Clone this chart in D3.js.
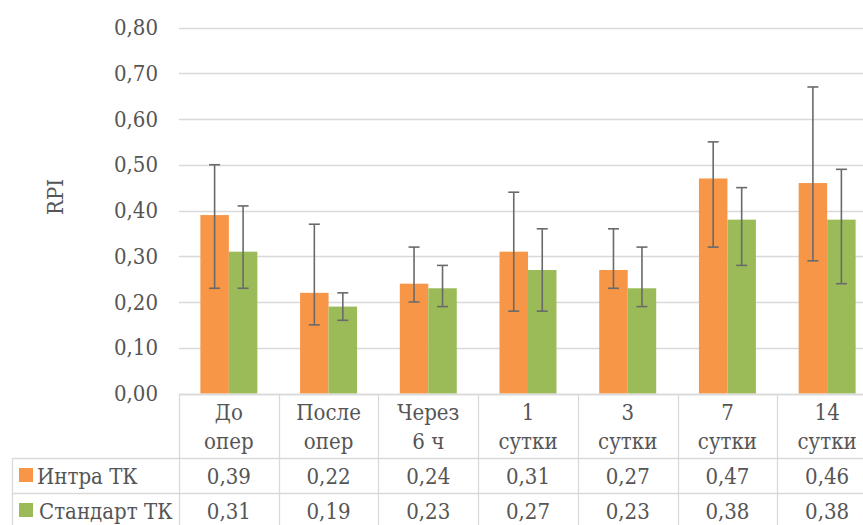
<!DOCTYPE html>
<html><head><meta charset="utf-8">
<script src="https://cdn.jsdelivr.net/npm/d3@7"></script>
<style>html,body{margin:0;padding:0;background:#fff;overflow:hidden}
svg text{font-family:"DejaVu Serif Condensed","DejaVu Serif",serif !important;font-stretch:condensed;}</style>
</head><body>
<script>
const categories = [["До","опер"],["После","опер"],["Через","6 ч"],["1","сутки"],["3","сутки"],["7","сутки"],["14","сутки"]];
const seriesNames = ["Интра ТК","Стандарт ТК"];
const intraValues = [0.39,0.22,0.24,0.31,0.27,0.47,0.46];
const standardValues = [0.31,0.19,0.23,0.27,0.23,0.38,0.38];
const intraLow = [0.23,0.15,0.20,0.18,0.23,0.32,0.29];
const intraHigh = [0.50,0.37,0.32,0.44,0.36,0.55,0.67];
const standardLow = [0.23,0.16,0.19,0.18,0.19,0.28,0.24];
const standardHigh = [0.41,0.22,0.28,0.36,0.32,0.45,0.49];
const yTicks = [0,0.1,0.2,0.3,0.4,0.5,0.6,0.7,0.8];
const colors = ["#F79646","#9BBB59"];

const W = 863, H = 525;
const svg = d3.select("body").append("svg").attr("width", W).attr("height", H);
const textColor = "#555555", gridColor = "#d9d9d9";
const fs = "22px";
const fmt = v => d3.format(".2f")(v).replace(".", ",");

const x0 = 179, plotRight = 877, yBase = 393.5, yTop = 27.5;
const x = d3.scaleBand().domain(d3.range(categories.length)).range([x0, plotRight]).paddingInner(0).paddingOuter(0);
const bw = x.bandwidth();
const xs = d3.scaleBand().domain([0,1]).range([bw*0.2143, bw*0.7857]).padding(0);
const y = d3.scaleLinear().domain([0,0.8]).range([yBase, yTop]);

svg.append("g").selectAll("line").data(yTicks).join("line")
  .attr("x1", x0).attr("x2", plotRight)
  .attr("y1", d => Math.round(y(d)) + 0.5).attr("y2", d => Math.round(y(d)) + 0.5)
  .attr("stroke", gridColor).attr("stroke-width", 1.3);

const yAxis = d3.axisLeft(y).tickValues(yTicks).tickFormat(fmt).tickSize(0).tickPadding(0);
const ga = svg.append("g").attr("transform", `translate(158,0)`).call(yAxis);
ga.select(".domain").remove();
ga.selectAll("text").attr("fill", textColor).style("font-size", fs);

svg.append("text").attr("transform", "translate(63,197) rotate(-90)")
  .attr("text-anchor", "middle").attr("fill", textColor).style("font-size", fs).text("RPI");

const series = [
  {vals: intraValues, lo: intraLow, hi: intraHigh},
  {vals: standardValues, lo: standardLow, hi: standardHigh}
];
series.forEach((s, si) => {
  svg.append("g").selectAll("rect").data(s.vals).join("rect")
    .attr("x", (d, i) => x(i) + xs(si)).attr("width", xs.bandwidth())
    .attr("y", d => y(d)).attr("height", d => y(0) - y(d))
    .attr("fill", colors[si]);
});
series.forEach((s, si) => {
  const g = svg.append("g").attr("stroke", "#6a6a6a").attr("stroke-width", 1.6).attr("fill", "none");
  s.vals.forEach((v, i) => {
    const cx = x(i) + xs(si) + xs.bandwidth()/2;
    g.append("line").attr("x1", cx).attr("x2", cx).attr("y1", y(s.lo[i])).attr("y2", y(s.hi[i]));
    [s.lo[i], s.hi[i]].forEach(e => {
      g.append("line").attr("x1", cx - 5.5).attr("x2", cx + 5.5).attr("y1", y(e)).attr("y2", y(e));
    });
  });
});

const tHeadTop = 394, tRow1 = 458, tRow2 = 493, tBottom = 530, tLeft = 12;
const tg = svg.append("g").attr("stroke", gridColor).attr("stroke-width", 1.3);
tg.append("line").attr("x1", x0).attr("x2", plotRight).attr("y1", tHeadTop + 0.5).attr("y2", tHeadTop + 0.5);
[tRow1, tRow2].forEach(yy => tg.append("line").attr("x1", tLeft).attr("x2", plotRight).attr("y1", yy + 0.5).attr("y2", yy + 0.5));
tg.append("line").attr("x1", tLeft + 0.5).attr("x2", tLeft + 0.5).attr("y1", tRow1).attr("y2", tBottom);
d3.range(categories.length + 1).forEach(i => {
  const xx = Math.round(i < categories.length ? x(i) : plotRight) + 0.5;
  tg.append("line").attr("x1", xx).attr("x2", xx).attr("y1", tHeadTop).attr("y2", tBottom);
});

const txt = svg.append("g").attr("fill", textColor).style("font-size", fs).attr("text-anchor", "middle");
categories.forEach((c, i) => {
  const cx = x(i) + bw/2;
  txt.append("text").attr("x", cx).attr("y", 420).text(c[0]);
  txt.append("text").attr("x", cx).attr("y", 449).text(c[1]);
  txt.append("text").attr("x", cx).attr("y", 484).text(fmt(intraValues[i]));
  txt.append("text").attr("x", cx).attr("y", 519).text(fmt(standardValues[i]));
});
[[468, 484], [503, 519]].forEach(([ky, ty], si) => {
  svg.append("rect").attr("x", 19).attr("y", ky).attr("width", 14).attr("height", 14).attr("fill", colors[si]);
  svg.append("text").attr("x", si === 0 ? 37 : 39).attr("y", ty).attr("fill", textColor)
    .style("font-size", fs).text(seriesNames[si]);
});
</script>
</body></html>
